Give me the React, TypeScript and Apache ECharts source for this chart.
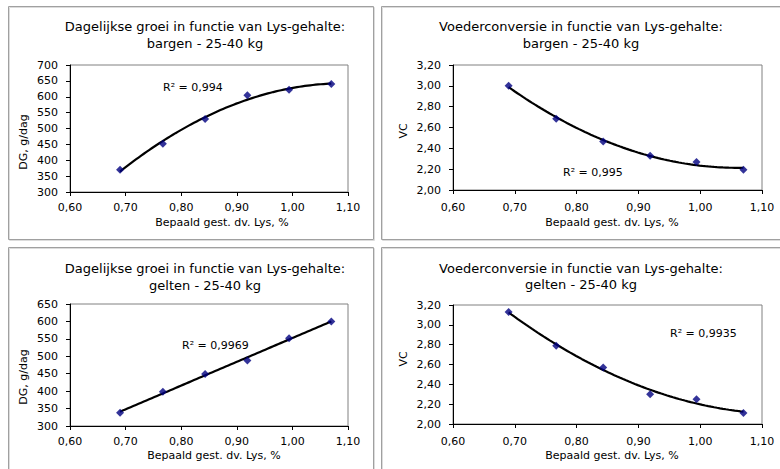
import React, { useEffect, useRef } from 'react';
import * as echarts from 'echarts';

// ---- data ----
const lysValues = [0.69, 0.767, 0.843, 0.919, 0.994, 1.07];
const dgBargen = [370, 452, 530, 605, 622, 640];
const vcBargen = [3.0, 2.685, 2.465, 2.33, 2.27, 2.195];
const dgGelten = [338, 398, 449, 488, 552, 600];
const vcGelten = [3.13, 2.79, 2.57, 2.3, 2.25, 2.11];

const chartTitles = [
  ['Dagelijkse groei in functie van Lys-gehalte:', 'bargen - 25-40 kg'],
  ['Voederconversie in functie van Lys-gehalte:', 'bargen - 25-40 kg'],
  ['Dagelijkse groei in functie van Lys-gehalte:', 'gelten - 25-40 kg'],
  ['Voederconversie in functie van Lys-gehalte:', 'gelten - 25-40 kg'],
];
const yTitles = ['DG, g/dag', 'VC', 'DG, g/dag', 'VC'];
const xTitle = 'Bepaald gest. dv. Lys, %';
const r2Labels = ['R² = 0,994', 'R² = 0,995', 'R² = 0,9969', 'R² = 0,9935'];
const trendOrders = [2, 2, 1, 2];
const xRange = { min: 0.6, max: 1.1, interval: 0.1 };
const yRanges = [
  { min: 300, max: 700, interval: 50, decimals: 0 },
  { min: 2.0, max: 3.2, interval: 0.2, decimals: 2 },
  { min: 300, max: 650, interval: 50, decimals: 0 },
  { min: 2.0, max: 3.2, interval: 0.2, decimals: 2 },
];
const seriesValues = [dgBargen, vcBargen, dgGelten, vcGelten];

// ---- layout (pixels) ----
const FONT = 'Verdana, "DejaVu Sans", sans-serif';
const panels = [
  { grid: { left: 70, top: 65, width: 278, height: 127 }, title: { x: 205, y1: 26, y2: 43 }, yT: { x: 23, y: 142 }, xT: { x: 222, y: 222 }, r2: { x: 163, y: 87 }, xMargin: 10, box: { x: 8.5, y: 6.5, w: 365, h: 233 } },
  { grid: { left: 453, top: 65, width: 309, height: 125 }, title: { x: 581, y1: 26, y2: 43 }, yT: { x: 403, y: 131 }, xT: { x: 612, y: 222 }, r2: { x: 563, y: 172 }, xMargin: 12, box: { x: 381.5, y: 6.5, w: 420, h: 233 } },
  { grid: { left: 70, top: 304, width: 278, height: 122 }, title: { x: 205, y1: 268, y2: 285 }, yT: { x: 23, y: 377 }, xT: { x: 214, y: 455 }, r2: { x: 182, y: 345 }, xMargin: 10, box: { x: 8.5, y: 247.5, w: 365, h: 240 } },
  { grid: { left: 453, top: 305, width: 309, height: 119 }, title: { x: 581, y1: 268, y2: 284 }, yT: { x: 403, y: 359 }, xT: { x: 612, y: 455 }, r2: { x: 670, y: 333 }, xMargin: 12, box: { x: 381.5, y: 247.5, w: 420, h: 240 } },
];

function polyFit(xs: number[], ys: number[], order: number): number[] {
  const n = order + 1;
  const A: number[][] = [];
  for (let i = 0; i < n; i++) {
    const row: number[] = [];
    for (let j = 0; j < n; j++) {
      let s = 0;
      for (let k = 0; k < xs.length; k++) s += Math.pow(xs[k], i + j);
      row.push(s);
    }
    let b = 0;
    for (let k = 0; k < xs.length; k++) b += ys[k] * Math.pow(xs[k], i);
    row.push(b);
    A.push(row);
  }
  for (let c = 0; c < n; c++) {
    let p = c;
    for (let r = c + 1; r < n; r++) if (Math.abs(A[r][c]) > Math.abs(A[p][c])) p = r;
    [A[c], A[p]] = [A[p], A[c]];
    for (let r = 0; r < n; r++) {
      if (r === c) continue;
      const f = A[r][c] / A[c][c];
      for (let j = c; j <= n; j++) A[r][j] -= f * A[c][j];
    }
  }
  return A.map((row, i) => row[n] / row[i]);
}

function trendPoints(xs: number[], ys: number[], order: number): number[][] {
  const coef = polyFit(xs, ys, order);
  const lo = Math.min(...xs);
  const hi = Math.max(...xs);
  const pts: number[][] = [];
  const steps = 80;
  for (let i = 0; i <= steps; i++) {
    const x = lo + ((hi - lo) * i) / steps;
    let y = 0;
    coef.forEach((c, p) => (y += c * Math.pow(x, p)));
    pts.push([x, y]);
  }
  return pts;
}

const fmt = (v: number, d: number) => v.toFixed(d).replace('.', ',');

export default function App() {
  const ref = useRef<HTMLDivElement>(null);
  useEffect(() => {
    if (!ref.current) return;
    const chart = echarts.init(ref.current, undefined, { renderer: 'svg' });

    const grids = panels.map((p) => ({
      ...p.grid,
      show: true,
      borderColor: '#808080',
      borderWidth: 1,
      backgroundColor: 'transparent',
      containLabel: false,
    }));

    const xAxes = panels.map((p, i) => ({
      type: 'value',
      gridIndex: i,
      min: xRange.min,
      max: xRange.max,
      interval: xRange.interval,
      axisLine: { show: true, onZero: false, lineStyle: { color: '#000', width: 1 } },
      axisTick: { show: true, inside: false, length: 4, lineStyle: { color: '#000' } },
      splitLine: { show: false },
      axisLabel: {
        color: '#000',
        fontFamily: FONT,
        fontSize: 11,
        margin: p.xMargin,
        formatter: (v: number) => fmt(v, 2),
      },
    }));

    const yAxes = panels.map((p, i) => ({
      type: 'value',
      gridIndex: i,
      min: yRanges[i].min,
      max: yRanges[i].max,
      interval: yRanges[i].interval,
      axisLine: { show: true, onZero: false, lineStyle: { color: '#000', width: 1 } },
      axisTick: { show: true, inside: false, length: 4, lineStyle: { color: '#000' } },
      splitLine: { show: false },
      axisLabel: {
        color: '#000',
        fontFamily: FONT,
        fontSize: 11,
        margin: 12,
        formatter: (v: number) => fmt(v, yRanges[i].decimals),
      },
    }));

    const series: any[] = [];
    seriesValues.forEach((vals, i) => {
      series.push({
        type: 'line',
        xAxisIndex: i,
        yAxisIndex: i,
        data: trendPoints(lysValues, vals, trendOrders[i]),
        showSymbol: false,
        symbol: 'none',
        smooth: false,
        lineStyle: { color: '#000', width: 2.2 },
        z: 2,
        silent: true,
      });
      series.push({
        type: 'scatter',
        xAxisIndex: i,
        yAxisIndex: i,
        data: lysValues.map((x, k) => [x, vals[k]]),
        symbol: 'diamond',
        symbolSize: 8,
        itemStyle: { color: '#000080' },
        z: 3,
      });
    });

    const graphics: any[] = [];
    panels.forEach((p, i) => {
      graphics.push({
        type: 'rect',
        shape: { x: p.box.x + 1, y: p.box.y + 1, width: p.box.w, height: p.box.h },
        style: { fill: 'none', stroke: '#dcdcdc', lineWidth: 1 },
        silent: true,
        z: -2,
      });
      graphics.push({
        type: 'rect',
        shape: { x: p.box.x, y: p.box.y, width: p.box.w, height: p.box.h },
        style: { fill: 'none', stroke: '#a0a0a0', lineWidth: 1 },
        silent: true,
        z: -1,
      });
      graphics.push({
        type: 'text',
        x: p.title.x,
        y: p.title.y1,
        style: { text: chartTitles[i][0], font: `13px ${FONT}`, fill: '#000', align: 'center', verticalAlign: 'middle' },
      });
      graphics.push({
        type: 'text',
        x: p.title.x,
        y: p.title.y2,
        style: { text: chartTitles[i][1], font: `13px ${FONT}`, fill: '#000', align: 'center', verticalAlign: 'middle' },
      });
      graphics.push({
        type: 'text',
        x: p.yT.x,
        y: p.yT.y,
        rotation: Math.PI / 2,
        style: { text: yTitles[i], font: `11px ${FONT}`, fill: '#000', align: 'center', verticalAlign: 'middle' },
      });
      graphics.push({
        type: 'text',
        x: p.xT.x,
        y: p.xT.y,
        style: { text: xTitle, font: `11px ${FONT}`, fill: '#000', align: 'center', verticalAlign: 'middle' },
      });
      graphics.push({
        type: 'text',
        x: p.r2.x,
        y: p.r2.y,
        style: { text: r2Labels[i], font: `11px ${FONT}`, fill: '#000', align: 'left', verticalAlign: 'middle' },
      });
    });

    chart.setOption({
      animation: false,
      backgroundColor: '#fff',
      grid: grids,
      xAxis: xAxes,
      yAxis: yAxes,
      series,
      graphic: { elements: graphics },
    });
    return () => chart.dispose();
  }, []);
  return <div ref={ref} style={{ position: 'fixed', left: 0, top: 0, width: 780, height: 469 }} />;
}
